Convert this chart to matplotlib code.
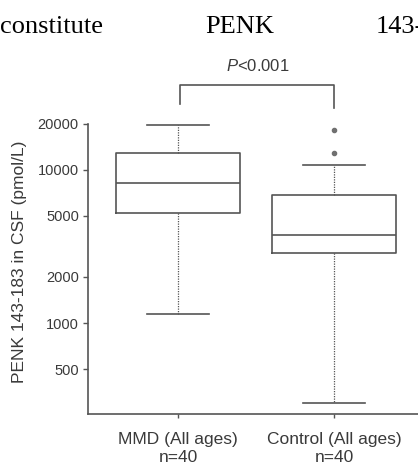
"""PENK 143-183 in CSF: MMD vs control box plot (log scale)."""
import matplotlib
matplotlib.use("Agg")
import matplotlib.pyplot as plt

GROUPS = ["MMD (All ages)\nn=40", "Control (All ages)\nn=40"]
Q1 = [5250, 2870]
MEDIAN = [8230, 3760]
Q3 = [12900, 6880]
WHISLO = [1140, 300]
WHISHI = [19700, 10800]
FLIERS = [[], [12900, 18200]]
YTICKS = [500, 1000, 2000, 5000, 10000, 20000]
P_TEXT = "<0.001"

LINE = "#555555"
TEXT = "#3a3a3a"

plt.rcParams.update({
    "font.family": "Liberation Sans",
    "font.size": 10,
    "mathtext.fontset": "custom",
    "mathtext.it": "Liberation Sans:italic",
    "mathtext.rm": "Liberation Sans",
})

fig = plt.figure(figsize=(4.18, 4.65), dpi=100)
ax = fig.add_axes([88 / 418, 51 / 465, 330 / 418, 364 / 465])

stats = []
for i in range(len(GROUPS)):
    stats.append(dict(q1=Q1[i], med=MEDIAN[i], q3=Q3[i],
                      whislo=WHISLO[i], whishi=WHISHI[i], fliers=FLIERS[i]))

ax.bxp(stats, positions=[1, 2], widths=0.8, showfliers=True,
       boxprops=dict(color=LINE, linewidth=1.2),
       medianprops=dict(color=LINE, linewidth=1.2),
       whiskerprops=dict(color=LINE, linewidth=0.9, linestyle=(0, (1, 1))),
       capprops=dict(color=LINE, linewidth=1.2),
       capwidths=0.4,
       flierprops=dict(marker="o", markerfacecolor="#707070",
                       markeredgecolor="#707070", markersize=3))

ax.set_yscale("log")
ax.set_ylim(255, 60400)
ax.set_xlim(0.423, 2.538)
ax.set_yticks(YTICKS)
ax.set_yticklabels([str(v) for v in YTICKS], fontsize=10.5)
ax.yaxis.set_minor_locator(matplotlib.ticker.NullLocator())
ax.set_xticks([1, 2])
ax.set_xticklabels(GROUPS, linespacing=1.25, fontsize=12.5)

for s in ["top", "right"]:
    ax.spines[s].set_visible(False)
ax.spines["left"].set_bounds(255, 20000)
for s in ["left", "bottom"]:
    ax.spines[s].set_color(LINE)
    ax.spines[s].set_linewidth(1.2)
ax.tick_params(axis="y", colors=LINE, labelcolor=TEXT, length=3.6, width=1.0, pad=3)
ax.tick_params(axis="x", colors=LINE, labelcolor=TEXT, length=3, width=1.0, pad=10)

ax.set_ylabel("PENK 143-183 in CSF (pmol/L)", color=TEXT, fontsize=12.5)
ax.yaxis.set_label_coords(-0.185, 0.4176)

# significance bracket
ax.plot([1.01, 1.01, 2, 2], [27000, 35900, 35900, 25100], color=LINE,
        linewidth=1.2, clip_on=False)
ax.text(1.513, 47700, "$P$" + P_TEXT, ha="center", va="center", color=TEXT,
        fontsize=12)

# fragment of surrounding page text
for x, word in [(0, "constitute"), (205, "PENK"), (376, "143-")]:
    fig.text(x / 418, 1 - 33 / 465, word, family="Liberation Serif",
             fontsize=19, color="black", ha="left", va="baseline")

fig.savefig("out.png", dpi=100, facecolor="white")
